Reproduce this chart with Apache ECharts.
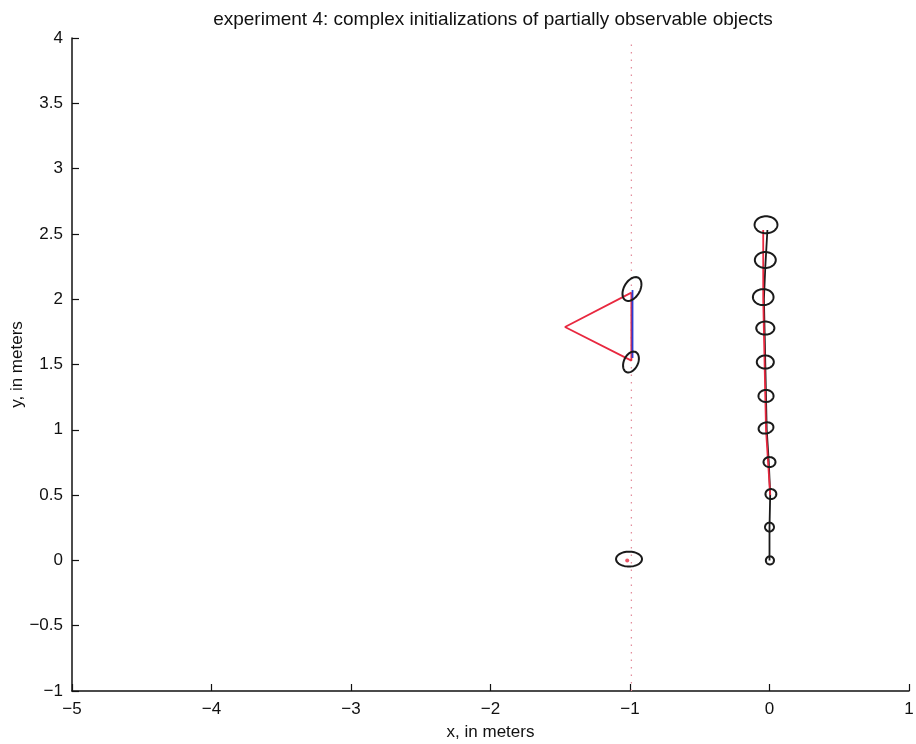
<!DOCTYPE html>
<html>
<head>
<meta charset="utf-8">
<script src="https://cdn.jsdelivr.net/npm/echarts@6/dist/echarts.min.js"></script>
<style>
html,body{margin:0;padding:0;background:#fff;}
#chart{width:916px;height:744px;}
</style>
</head>
<body>
<div id="chart"></div>
<script>
// ---- data ----
const titleText = 'experiment 4: complex initializations of partially observable objects';
const xName = 'x, in meters';
const yName = 'y, in meters';

// black (true) trajectory
const blackTrackX = [0.0, 0.0, 0.005, -0.005, -0.02, -0.025, -0.03, -0.035, -0.04, -0.03, -0.015];
const blackTrackY = [0.0, 0.25, 0.5, 0.75, 1.0, 1.25, 1.5, 1.75, 2.0, 2.25, 2.53];
// red (estimated) trajectory
const redTrackX = [0.005, -0.01, -0.025, -0.03, -0.035, -0.04, -0.045, -0.045, -0.045];
const redTrackY = [0.5, 0.75, 1.0, 1.25, 1.5, 1.75, 2.0, 2.25, 2.53];

// uncertainty ellipses: centre, semi-axes (data units), tilt (degrees)
const ellipseX  = [0.003, 0.0, 0.01, 0.0, -0.025, -0.025, -0.03, -0.03, -0.045, -0.03, -0.025, -0.986, -0.993, -1.007];
const ellipseY  = [0.0, 0.255, 0.508, 0.753, 1.014, 1.259, 1.519, 1.779, 2.016, 2.30, 2.57, 2.078, 1.519, 0.01];
const ellipseRx = [0.029, 0.032, 0.039, 0.043, 0.054, 0.054, 0.061, 0.065, 0.074, 0.075, 0.082, 0.093, 0.079, 0.093];
const ellipseRy = [0.031, 0.034, 0.038, 0.038, 0.042, 0.046, 0.05, 0.05, 0.061, 0.061, 0.065, 0.061, 0.054, 0.057];
const ellipseAngle = [0, 0, 0, 0, 15, 0, 0, 0, 0, 0, 0, 60, 65, 0];

// red triangle (object hypothesis)
const triangleX = [-0.99, -1.466, -0.99, -0.99];
const triangleY = [2.05, 1.787, 1.53, 2.05];
// blue segment
const blueX = [-0.982, -0.982];
const blueY = [2.07, 1.55];
// dotted vertical line
const dotX = [-0.99, -0.99];
const dotY = [3.95, -1.0];
// red point
const pointX = [-1.02];
const pointY = [0.0];

const zip = (xs, ys) => xs.map((x, i) => [x, ys[i]]);
const ellipseData = ellipseX.map((x, i) => [x, ellipseY[i], ellipseRx[i], ellipseRy[i], ellipseAngle[i]]);

const FONT = 'Liberation Sans, Arial, sans-serif';
const minus = v => String(v).replace('-', '\u2212');

const chart = echarts.init(document.getElementById('chart'), null, {renderer: 'canvas'});
chart.setOption({
  backgroundColor: '#fff',
  animation: false,
  title: {
    text: titleText,
    left: 488, top: 5, textAlign: 'center',
    textStyle: {fontFamily: FONT, fontSize: 19, fontWeight: 'normal', color: '#111'}
  },
  grid: {left: 72, right: 7, top: 38, bottom: 53, containLabel: false, outerBoundsMode: 'none'},
  xAxis: {
    type: 'value', min: -5, max: 1, interval: 1,
    name: xName, nameLocation: 'middle', nameGap: 33, nameMoveOverlap: false,
    nameTextStyle: {fontFamily: FONT, fontSize: 17, color: '#111'},
    axisLine: {show: true, onZero: false, lineStyle: {color: '#111', width: 1.5}},
    axisTick: {show: true, inside: true, length: 7, lineStyle: {color: '#111', width: 1.2}},
    axisLabel: {fontFamily: FONT, fontSize: 17, color: '#111', margin: 10, formatter: minus, showMinLabel: true, showMaxLabel: true},
    splitLine: {show: false}
  },
  yAxis: {
    type: 'value', min: -1, max: 4, interval: 0.5,
    name: yName, nameLocation: 'middle', nameGap: 46, nameRotate: 90, nameMoveOverlap: false,
    nameTextStyle: {fontFamily: FONT, fontSize: 17, color: '#111'},
    axisLine: {show: true, onZero: false, lineStyle: {color: '#111', width: 1.5}},
    axisTick: {show: true, inside: true, length: 7, lineStyle: {color: '#111', width: 1.2}},
    axisLabel: {fontFamily: FONT, fontSize: 17, color: '#111', margin: 9, formatter: minus, showMinLabel: true, showMaxLabel: true},
    splitLine: {show: false}
  },
  series: [
    {
      type: 'line', data: zip(dotX, dotY), symbol: 'none',
      lineStyle: {color: '#e38d9c', width: 1.3, type: [1.5, 6]}, z: 1
    },
    {
      type: 'line', data: zip(triangleX, triangleY), symbol: 'none',
      lineStyle: {color: '#e8283f', width: 1.8}, z: 2
    },
    {
      type: 'line', data: zip(blueX, blueY), symbol: 'none',
      lineStyle: {color: '#2a3fd6', width: 1.8}, z: 3
    },
    {
      type: 'line', data: zip(blackTrackX, blackTrackY), symbol: 'none',
      lineStyle: {color: '#1a1a1a', width: 1.8}, z: 3
    },
    {
      type: 'line', data: zip(redTrackX, redTrackY), symbol: 'none',
      lineStyle: {color: '#e8283f', width: 1.8}, z: 4
    },
    {
      type: 'scatter', data: zip(pointX, pointY), symbol: 'circle', symbolSize: 4,
      itemStyle: {color: '#e8283f'}, z: 5
    },
    {
      type: 'custom', data: ellipseData, z: 6,
      renderItem: function (params, api) {
        const c = api.coord([api.value(0), api.value(1)]);
        const s = api.size([api.value(2), api.value(3)]);
        const a = api.value(4) * Math.PI / 180;
        const pts = [];
        const n = 60;
        for (let i = 0; i < n; i++) {
          const t = 2 * Math.PI * i / n;
          const ex = s[0] * Math.cos(t), ey = s[1] * Math.sin(t);
          pts.push([c[0] + ex * Math.cos(a) - ey * Math.sin(a), c[1] - (ex * Math.sin(a) + ey * Math.cos(a))]);
        }
        return {type: 'polygon', shape: {points: pts}, style: {fill: 'none', stroke: '#1a1a1a', lineWidth: 2}};
      }
    }
  ]
});
</script>
</body>
</html>
